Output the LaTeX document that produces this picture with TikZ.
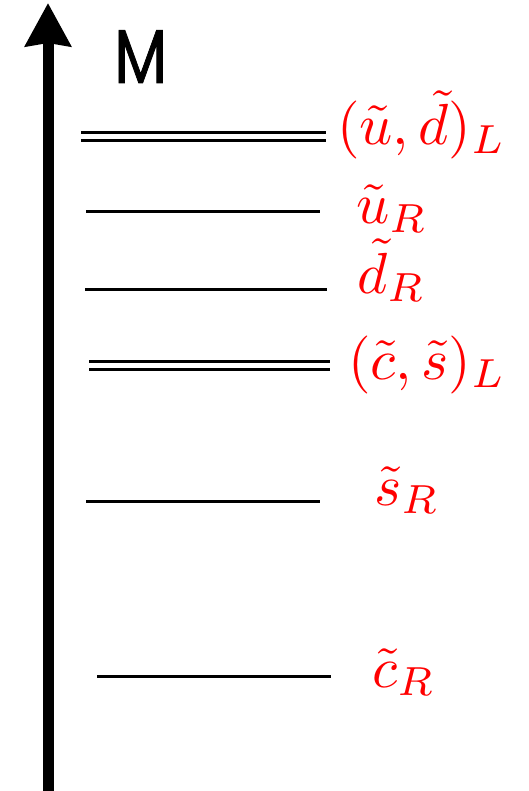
\documentclass[tikz,border=0pt]{standalone}
\usepackage{fontspec}
\newfontfamily\mfont[FakeBold=1.2]{Poppins}
\usetikzlibrary{arrows.meta}
\begin{document}
\begin{tikzpicture}[x=1pt,y=-1pt,
  axis/.style={line width=11pt,-{Stealth[length=43pt,width=45pt,inset=3pt]}},
  level/.style={line width=3pt},
  dlevel/.style={double,double distance=5pt,line width=3pt},
  lab/.style={anchor=base west,inner sep=0pt,text=red,scale=5.8}]
\useasboundingbox (0,0) rectangle (529,791);
% axis
\coordinate (axbot) at (48,791);
\coordinate (axtop) at (48,3);
\draw[axis] (axbot) -- (axtop);
\node[anchor=base west,inner sep=0pt,xscale=0.81,font=\mfont\fontsize{76}{80}\selectfont] (M) at (114,83) {M};
% levels
\coordinate (a1) at (81,136.7); \coordinate (a2) at (326,136.7);
\coordinate (b1) at (86,212); \coordinate (b2) at (320,212);
\coordinate (c1) at (85,289); \coordinate (c2) at (327,289);
\coordinate (d1) at (89,365.3); \coordinate (d2) at (329.5,365.3);
\coordinate (e1) at (86,501.3); \coordinate (e2) at (320,501.3);
\coordinate (f1) at (97,676); \coordinate (f2) at (331,676);
\draw[dlevel] (a1) -- (a2);
\draw[level] (b1) -- (b2);
\draw[level] (c1) -- (c2);
\draw[dlevel] (d1) -- (d2);
\draw[level] (e1) -- (e2);
\draw[level] (f1) -- (f2);
% labels
\node[lab] (l1) at (336,145) {$(\tilde u,\tilde d)_L$};
\node[lab] (l2) at (355,224) {$\tilde u_R$};
\node[lab] (l3) at (356,293) {$\tilde d_R$};
\node[lab] (l4) at (347,379) {$(\tilde c,\tilde s)_L$};
\node[lab] (l5) at (373,505) {$\tilde s_R$};
\node[lab] (l6) at (371,687) {$\tilde c_R$};
\end{tikzpicture}
\end{document}
